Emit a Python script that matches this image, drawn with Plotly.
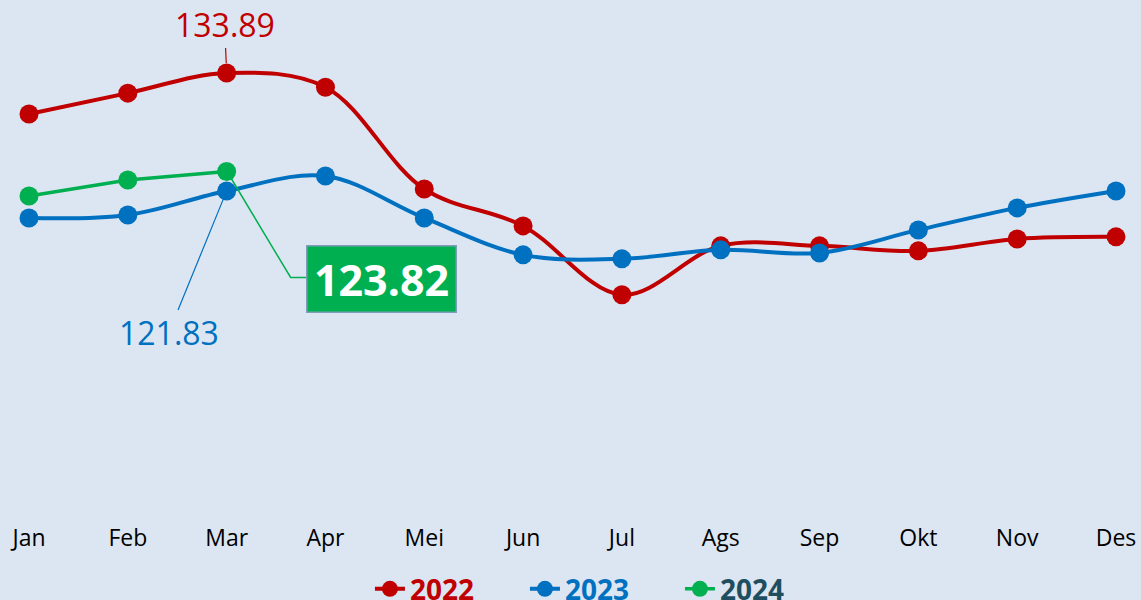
import plotly.graph_objects as go

months = ["Jan", "Feb", "Mar", "Apr", "Mei", "Jun", "Jul", "Ags", "Sep", "Okt", "Nov", "Des"]
y2022 = [129.69, 131.83, 133.89, 132.44, 122.03, 118.26, 111.22, 116.22, 116.22, 115.71, 116.93, 117.14]
y2023 = [119.07, 119.38, 121.83, 123.36, 119.07, 115.30, 114.89, 115.81, 115.50, 117.85, 120.10, 121.83]
y2024 = [121.32, 122.95, 123.82]

RED = "#C00000"
BLUE = "#0070C0"
GREEN = "#00B050"
BG = "#DCE6F2"
FONT = "Open Sans"

xs = list(range(len(months)))

fig = go.Figure()
fig.add_trace(go.Scatter(
    x=xs, y=y2022, mode="lines+markers",
    name=f"<b><span style='color:{RED}'>2022</span></b>",
    line=dict(color=RED, width=4, shape="spline", smoothing=1.0),
    marker=dict(color=RED, size=19),
))
fig.add_trace(go.Scatter(
    x=xs, y=y2023, mode="lines+markers",
    name=f"<b><span style='color:{BLUE}'>2023</span></b>",
    line=dict(color=BLUE, width=4, shape="spline", smoothing=1.0),
    marker=dict(color=BLUE, size=19),
))
fig.add_trace(go.Scatter(
    x=xs[:len(y2024)], y=y2024, mode="lines+markers",
    name="<b><span style='color:#1F4E5F'>2024</span></b>",
    line=dict(color=GREEN, width=3.5),
    marker=dict(color=GREEN, size=19),
))

mi = 2  # March index
annotations = [
    dict(x=mi, y=y2022[mi], xref="x", yref="y", text=f"{y2022[mi]:.2f}",
         showarrow=True, arrowhead=0, arrowwidth=1.2, arrowcolor=RED,
         ax=-2, ay=-48, standoff=10,
         font=dict(family=FONT, size=32, color=RED)),
    dict(x=mi, y=y2023[mi], xref="x", yref="y", text=f"{y2023[mi]:.2f}",
         showarrow=True, arrowhead=0, arrowwidth=1.2, arrowcolor=BLUE,
         ax=-58, ay=142, standoff=8,
         font=dict(family=FONT, size=32, color=BLUE)),
    dict(x=mi, y=y2024[mi], xref="x", yref="y", text=f"<b>{y2024[mi]:.2f}</b>",
         showarrow=False, xshift=155, yshift=-107,
         width=146, height=63, bgcolor=GREEN, bordercolor="#7F9DB9", borderwidth=1.5,
         font=dict(family=FONT, size=43, color="white")),
]

shapes = [
    dict(type="path", xref="x", yref="y", xsizemode="pixel", ysizemode="pixel",
         xanchor=mi, yanchor=y2024[mi],
         path="M 4 -6 L 64 -106 L 80 -106",
         line=dict(color=GREEN, width=1.5)),
]

fig.update_layout(
    width=1141, height=600,
    paper_bgcolor=BG, plot_bgcolor=BG,
    margin=dict(l=0, r=0, t=0, b=80, autoexpand=False),
    xaxis=dict(range=[-0.2935, 11.253], tickvals=xs, ticktext=months,
               showgrid=False, zeroline=False, showline=False,
               ticklabelstandoff=2,
               tickfont=dict(family=FONT, size=23, color="black")),
    yaxis=dict(range=[88.2, 141.35], visible=False, showgrid=False, zeroline=False),
    showlegend=True,
    legend=dict(orientation="h", x=0.528, xanchor="center", y=-0.133, yanchor="middle",
                font=dict(family=FONT, size=28), bgcolor="rgba(0,0,0,0)",
                entrywidth=110, entrywidthmode="pixels", traceorder="normal"),
    annotations=annotations,
    shapes=shapes,
    font=dict(family=FONT),
)

fig.write_html("out.html", config={"displayModeBar": False},
               post_script="document.body.style.margin='0';document.body.style.overflow='hidden';")
